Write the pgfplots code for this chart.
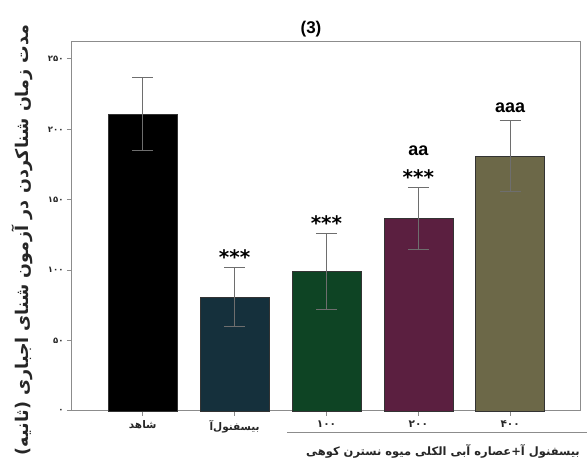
\documentclass[border=0pt]{standalone}
\usepackage{fontspec}
\setmainfont{Liberation Sans}
\newfontfamily\fa[Script=Arabic]{DejaVu Sans}
\TeXXeTstate=1
\usepackage{pgfplots}
\pgfplotsset{compat=1.18}
\definecolor{axgray}{HTML}{8C8C8C}
\definecolor{errgray}{HTML}{6E6E6E}
\definecolor{cA}{HTML}{000000}
\definecolor{cB}{HTML}{15303C}
\definecolor{cC}{HTML}{0E4424}
\definecolor{cD}{HTML}{5B1F40}
\definecolor{cE}{HTML}{6C6848}
\begin{document}
\begin{tikzpicture}[x=1pt,y=1pt]
\useasboundingbox (0,0) rectangle (587,470);
\begin{axis}[
  at={(72pt,59pt)}, anchor=south west,
  scale only axis, width=508pt, height=369pt,
  xmin=-0.77, xmax=4.76, ymin=0, ymax=262,
  axis line style={axgray, line width=1pt},
  tick style={axgray, line width=1pt},
  major tick length=5pt, tick align=outside,
  xtick pos=bottom, ytick pos=left,
  xtick={0,1,2,3,4},
  xticklabels={{\fa\beginR شاهد\endR},{\fa\beginR بیسفنول‌آ\endR},{\fa ۱۰۰},{\fa ۲۰۰},{\fa ۴۰۰}},
  xticklabel style={font=\fa\bfseries\fontsize{10.5}{12}\selectfont, text=black!85, yshift=-1pt},
  ytick={0,50,100,150,200,250},
  yticklabels={{\fa ۰},{\fa ۵۰},{\fa ۱۰۰},{\fa ۱۵۰},{\fa ۲۰۰},{\fa ۲۵۰}},
  yticklabel style={font=\fa\bfseries\fontsize{8.5}{9}\selectfont, text=black!85},
  ybar, bar width=69pt,
  every axis plot/.append style={bar shift=0pt, draw=black!80, line width=0.6pt,
    error bars/y dir=both, error bars/y explicit,
    error bars/error bar style={errgray, line width=1pt},
    error bars/error mark options={errgray, line width=1pt, mark size=10.5pt, rotate=90}},
  clip=false,
]
\addplot[fill=cA] coordinates {(0,211) +- (0,26)};
\addplot[fill=cB] coordinates {(1,81) +- (0,21)};
\addplot[fill=cC] coordinates {(2,99) +- (0,27)};
\addplot[fill=cD] coordinates {(3,137) +- (0,22)};
\addplot[fill=cE] coordinates {(4,181) +- (0,25)};
\node[anchor=base, font=\fa\bfseries\fontsize{20}{20}\selectfont, inner sep=0pt] at (axis cs:1,104) {***};
\node[anchor=base, font=\fa\bfseries\fontsize{20}{20}\selectfont, inner sep=0pt] at (axis cs:2,128) {***};
\node[anchor=base, font=\fa\bfseries\fontsize{20}{20}\selectfont, inner sep=0pt] at (axis cs:3,161) {***};
\node[anchor=base, font=\bfseries\fontsize{18}{18}\selectfont, inner sep=0pt] at (axis cs:3,181.5) {aa};
\node[anchor=base, font=\bfseries\fontsize{18}{18}\selectfont, inner sep=0pt] at (axis cs:4,212) {aaa};
\end{axis}
\node[font=\bfseries\fontsize{17}{17}\selectfont] at (311,441) {(3)};
\draw[axgray, line width=1pt] (287,37) -- (587,37);
\node[font=\fa\bfseries\fontsize{11.5}{13}\selectfont, text=black!85] at (443,19) {\beginR بیسفنول آ+عصاره آبی الکلی میوه نسترن کوهی\endR};
\node[rotate=90, font=\fa\bfseries\fontsize{17.5}{18}\selectfont, text=black!85] at (22,230) {\beginR مدت زمان شناکردن در آزمون شنای اجباری (ثانیه)\endR};
\end{tikzpicture}
\end{document}
